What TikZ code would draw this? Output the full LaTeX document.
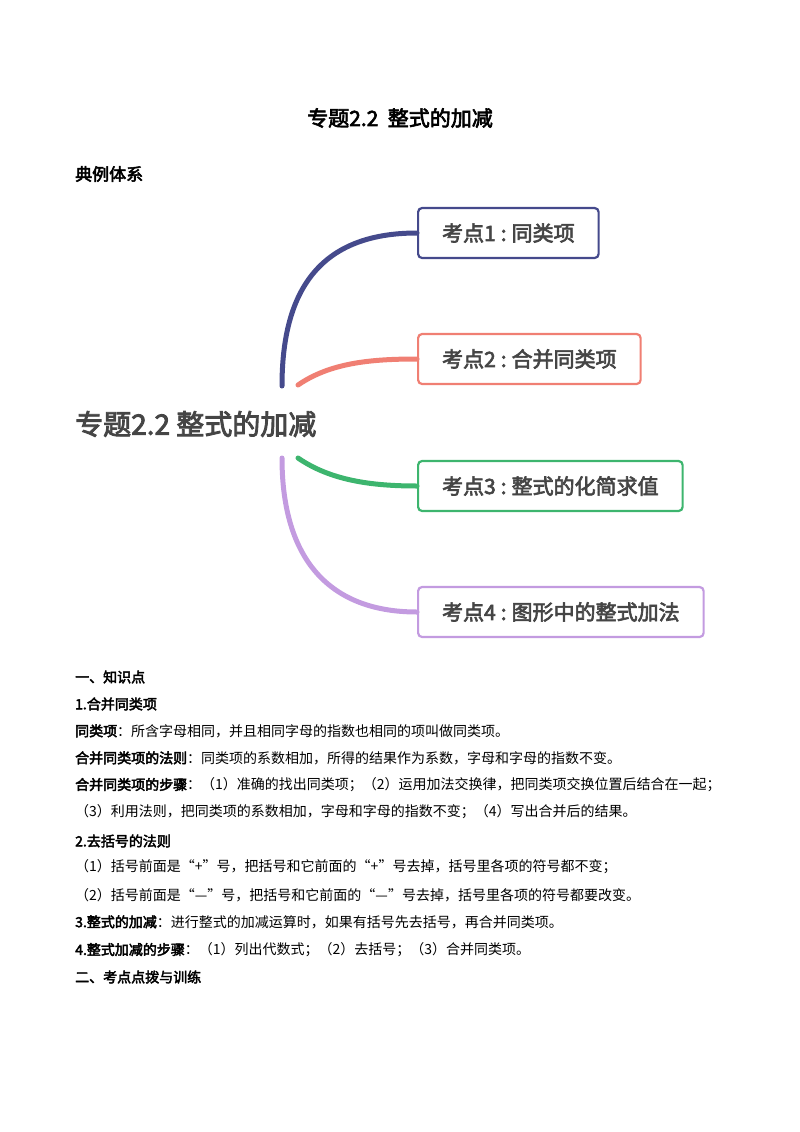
\documentclass[tikz,border=0pt]{standalone}
\usepackage{fontspec}
\setmainfont{Noto Sans CJK SC}[AutoFakeBold=3]
\usetikzlibrary{positioning}
\definecolor{kdblue}{HTML}{454A8C}
\definecolor{kdred}{HTML}{F07F73}
\definecolor{kdgreen}{HTML}{3DB56E}
\definecolor{kdpurple}{HTML}{C39BE0}
\definecolor{centergray}{HTML}{454545}
\newcommand{\kdcolon}{\hspace{5pt}:\hspace{5pt}}
\tikzset{
  kaodian/.style={draw, line width=2.2pt, rounded corners=4pt, minimum height=50pt,
    inner xsep=24pt, anchor=west, font=\fontsize{21}{24}\selectfont\bfseries, text=centergray},
  branch/.style={line width=5pt, line cap=round},
  textline/.style={anchor=west, inner sep=0pt, font=\fontsize{14}{16}\selectfont}
}
\begin{document}
\begin{tikzpicture}[x=1pt,y=-1pt]
\useasboundingbox (0,0) rectangle (800,1132);
% title
\node[font=\fontsize{21}{24}\selectfont\bfseries] (title) at (400,118) {专题2.2\ \ 整式的加减};
\node[textline, font=\fontsize{17}{20}\selectfont\bfseries] (tili) at (75,174) {典例体系};
% mind map
\node[anchor=west, inner sep=0pt, font=\fontsize{28}{32}\selectfont\bfseries, text=centergray] (center) at (75,424) {专题2.2 整式的加减};
\node[kaodian, draw=kdblue] (k1) at (417,233) {考点1\kdcolon 同类项};
\node[kaodian, draw=kdred] (k2) at (417,359) {考点2\kdcolon 合并同类项};
\node[kaodian, draw=kdgreen] (k3) at (417,486) {考点3\kdcolon 整式的化简求值};
\node[kaodian, draw=kdpurple] (k4) at (417,612) {考点4\kdcolon 图形中的整式加法};
\coordinate (s1) at (282,386);
\coordinate (s2) at (298,385);
\coordinate (s3) at (298,458);
\coordinate (s4) at (282,458);
\draw[branch, kdblue] (s1) .. controls (282,290) and (320,233) .. (k1.west);
\draw[branch, kdred] (s2) .. controls (330,363) and (370,359) .. (k2.west);
\draw[branch, kdgreen] (s3) .. controls (330,480) and (370,486) .. (k3.west);
\draw[branch, kdpurple] (s4) .. controls (282,560) and (330,612) .. (k4.west);
% knowledge points
\node[textline] (l1) at (75,677) {\bfseries 一、知识点};
\node[textline] (l2) at (75,704) {\bfseries 1.合并同类项};
\node[textline] (l3) at (75,731) {{\bfseries 同类项}：所含字母相同，并且相同字母的指数也相同的项叫做同类项。};
\node[textline] (l4) at (75,758) {{\bfseries 合并同类项的法则}：同类项的系数相加，所得的结果作为系数，字母和字母的指数不变。};
\node[textline] (l5) at (75,785) {{\bfseries 合并同类项的步骤}：（1）准确的找出同类项；（2）运用加法交换律，把同类项交换位置后结合在一起；};
\node[textline] (l6) at (75,812) {（3）利用法则，把同类项的系数相加，字母和字母的指数不变；（4）写出合并后的结果。};
\node[textline] (l7) at (75,841) {\bfseries 2.去括号的法则};
\node[textline] (l8) at (75,867) {（1）括号前面是“+”号，把括号和它前面的“+”号去掉，括号里各项的符号都不变；};
\node[textline] (l9) at (75,895) {（2）括号前面是“—”号，把括号和它前面的“—”号去掉，括号里各项的符号都要改变。};
\node[textline] (l10) at (75,922) {{\bfseries 3.整式的加减}：进行整式的加减运算时，如果有括号先去括号，再合并同类项。};
\node[textline] (l11) at (75,950) {{\bfseries 4.整式加减的步骤}：（1）列出代数式；（2）去括号；（3）合并同类项。};
\node[textline] (l12) at (75,977) {\bfseries 二、考点点拨与训练};
\end{tikzpicture}
\end{document}
